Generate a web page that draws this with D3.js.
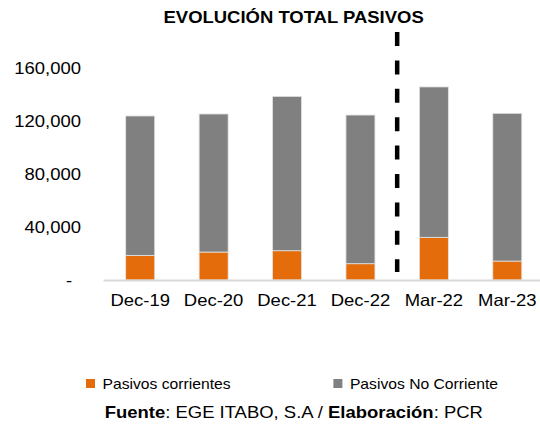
<!DOCTYPE html>
<html>
<head>
<meta charset="utf-8">
<script src="https://cdn.jsdelivr.net/npm/d3@7"></script>
<style>
  html, body { margin: 0; padding: 0; background: #ffffff; }
  svg { display: block; }
</style>
</head>
<body>
<script>
// Data (thousands of DOP)
var categories = ["Dec-19", "Dec-20", "Dec-21", "Dec-22", "Mar-22", "Mar-23"];
var corrientes = [18600, 21100, 22100, 12300, 32200, 14300];
var noCorrientes = [105200, 104200, 116500, 112200, 113500, 111500];
var yTicks = [0, 40000, 80000, 120000, 160000];
var seriesNames = ["Pasivos corrientes", "Pasivos No Corriente"];
var seriesColors = ["#e46c0a", "#808080"];

var width = 540, height = 425;
var font = "'Liberation Sans', Arial, sans-serif";
var SX = 1.12; // the original text is a bit wider than plain Arial

var svg = d3.select("body").append("svg")
            .attr("width", width)
            .attr("height", height)
            .style("font-family", font);

var x = d3.scaleBand()
          .domain(categories)
          .range([103.5, 544])
          .paddingInner(0.605)
          .paddingOuter(0.3025);

var y = d3.scaleLinear()
          .domain([0, 160000])
          .range([280, 68]);

// stack both series
var rows = categories.map(function (c, i) {
    return {cat: c, corr: corrientes[i], nocorr: noCorrientes[i]};
});
var stacked = d3.stack().keys(["corr", "nocorr"])(rows);

// Title
svg.append("text")
   .attr("transform", "translate(293.6,22.5) scale(" + SX + ",1)")
   .attr("text-anchor", "middle")
   .attr("font-size", 16.5)
   .attr("font-weight", "bold")
   .style("fill", "#000")
   .text("EVOLUCIÓN TOTAL PASIVOS");

// Y axis (labels only)
var yAxis = svg.append("g")
               .attr("transform", "translate(81,0)")
               .call(d3.axisLeft(y)
                       .tickValues(yTicks)
                       .tickSize(0)
                       .tickPadding(0)
                       .tickFormat(function (d) { return d === 0 ? "-" : d3.format(",")(d); }));
yAxis.select(".domain").remove();
yAxis.selectAll("text")
     .attr("x", function (d) { return d === 0 ? -8 : 0; })
     .attr("transform", "scale(" + SX + ",1)")
     .attr("font-size", 16.5)
     .attr("font-family", font)
     .style("fill", "#000");

// Bars
svg.append("g")
   .selectAll("g")
   .data(stacked)
   .join("g")
   .attr("fill", function (d, i) { return seriesColors[i]; })
   .selectAll("rect")
   .data(function (d) { return d; })
   .join("rect")
   .attr("x", function (d) { return x(d.data.cat); })
   .attr("y", function (d) { return y(d[1]); })
   .attr("width", x.bandwidth())
   .attr("height", function (d) { return y(d[0]) - y(d[1]); })
   .attr("stroke", "#e3e3e3")
   .attr("stroke-width", 0.8);

// X axis baseline
svg.append("line")
   .attr("x1", x.range()[0])
   .attr("x2", width)
   .attr("y1", y(0) + 0.5)
   .attr("y2", y(0) + 0.5)
   .attr("stroke", "#d9d9d9")
   .attr("stroke-width", 1.8);

var xAxis = svg.append("g")
               .attr("transform", "translate(0," + y(0) + ")")
               .call(d3.axisBottom(x).tickSize(0).tickPadding(14.5));
xAxis.select(".domain").remove();
xAxis.selectAll("text")
     .attr("transform", "scale(" + SX + ",1)")
     .attr("font-size", 16.5)
     .attr("font-family", font)
     .style("fill", "#000");

// Dashed separator between annual and quarterly data
var sepX = (x("Dec-22") + x("Mar-22") + x.bandwidth()) / 2;
svg.append("line")
   .attr("x1", sepX)
   .attr("x2", sepX)
   .attr("y1", 32)
   .attr("y2", 272)
   .attr("stroke", "#000")
   .attr("stroke-width", 4.5)
   .attr("stroke-dasharray", "14,14.4");

// Legend
var legendX = [86, 333.4];
var legend = svg.append("g")
                .selectAll("g")
                .data(seriesNames)
                .join("g")
                .attr("transform", function (d, i) { return "translate(" + legendX[i] + ",379)"; });
legend.append("rect")
      .attr("width", 9)
      .attr("height", 9)
      .attr("fill", function (d, i) { return seriesColors[i]; });
legend.append("text")
      .attr("transform", "translate(16.5,10) scale(" + SX + ",1)")
      .attr("font-size", 14)
      .style("fill", "#000")
      .text(function (d) { return d; });

// Source line
var foot = svg.append("text")
              .attr("transform", "translate(293.8,418) scale(" + SX + ",1)")
              .attr("text-anchor", "middle")
              .attr("font-size", 16.5)
              .style("fill", "#000");
foot.append("tspan").attr("font-weight", "bold").text("Fuente");
foot.append("tspan").text(": EGE ITABO, S.A / ");
foot.append("tspan").attr("font-weight", "bold").text("Elaboración");
foot.append("tspan").text(": PCR");
</script>
</body>
</html>
